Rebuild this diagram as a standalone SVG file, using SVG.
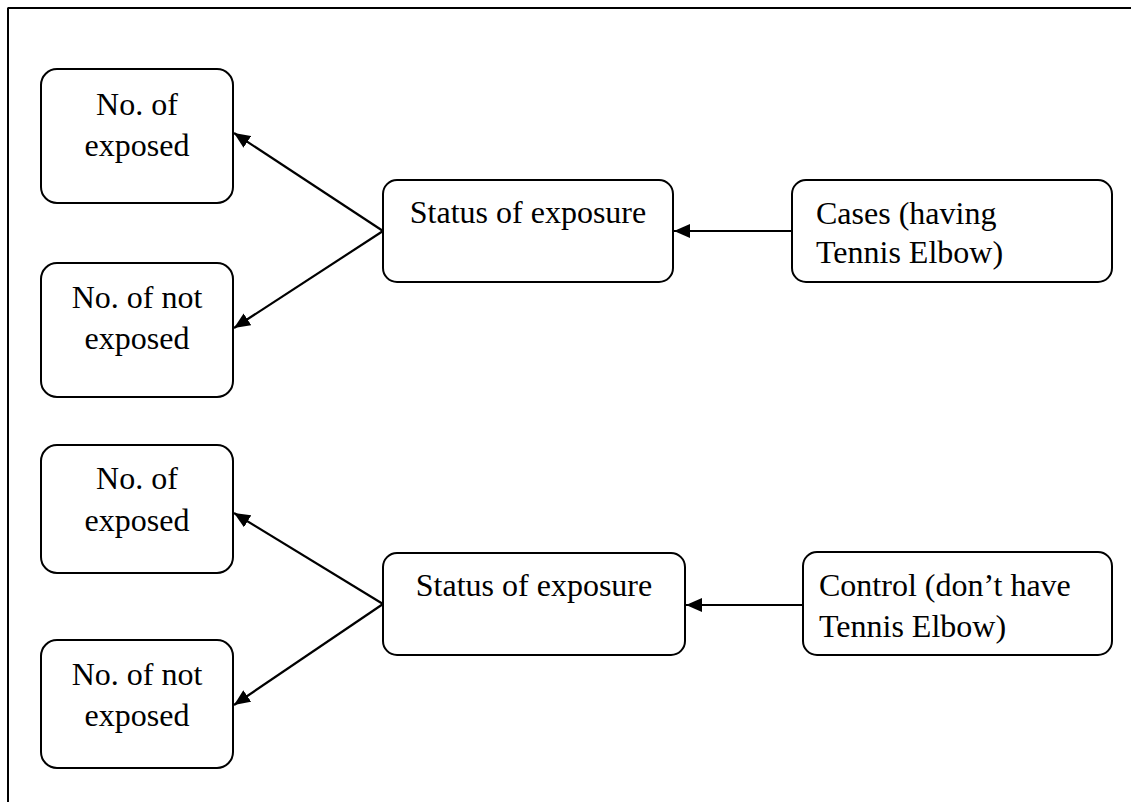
<svg xmlns="http://www.w3.org/2000/svg" width="1131" height="802" viewBox="0 0 1131 802">
<style>
.box{fill:#fff;stroke:#000;stroke-width:2}
.t{font-family:"Liberation Serif","Times New Roman",serif;font-size:32px;fill:#000}
.c{text-anchor:middle}
.conn{stroke:#000;stroke-width:2.2;fill:none;marker-end:url(#ah)}
</style>
<defs>
<marker id="ah" markerUnits="userSpaceOnUse" markerWidth="18" markerHeight="14" refX="16" refY="7" orient="auto">
<path d="M0,0 L16,7 L0,14 Z" fill="#000"/>
</marker>
</defs>
<rect width="1131" height="802" fill="#fff"/>
<g id="frame" stroke="#000" stroke-width="2" fill="none">
<line x1="7.5" y1="8" x2="1131" y2="8"/>
<line x1="8" y1="8" x2="8" y2="802"/>
</g>
<g id="connectors">
<line class="conn" x1="792" y1="231" x2="674" y2="231"/>
<line class="conn" x1="383" y1="231" x2="234" y2="133"/>
<line class="conn" x1="383" y1="231" x2="234" y2="328"/>
<line class="conn" x1="803" y1="605" x2="686" y2="605"/>
<line class="conn" x1="383" y1="604" x2="234" y2="513"/>
<line class="conn" x1="383" y1="604" x2="234" y2="705"/>
</g>
<g id="n1">
<rect class="box" x="41" y="69" width="192" height="134" rx="16"/>
<text class="t c" x="137" y="115">No. of</text>
<text class="t c" x="137" y="156">exposed</text>
</g>
<g id="n2">
<rect class="box" x="41" y="263" width="192" height="134" rx="16"/>
<text class="t c" x="137" y="308">No. of not</text>
<text class="t c" x="137" y="349">exposed</text>
</g>
<g id="n3">
<rect class="box" x="383" y="180" width="290" height="102" rx="14"/>
<text class="t c" x="528" y="223">Status of exposure</text>
</g>
<g id="n4">
<rect class="box" x="792" y="180" width="320" height="102" rx="14"/>
<text class="t" x="816" y="224">Cases (having</text>
<text class="t" x="816" y="263">Tennis Elbow)</text>
</g>
<g id="n5">
<rect class="box" x="41" y="445" width="192" height="128" rx="16"/>
<text class="t c" x="137" y="489">No. of</text>
<text class="t c" x="137" y="531">exposed</text>
</g>
<g id="n6">
<rect class="box" x="41" y="640" width="192" height="128" rx="16"/>
<text class="t c" x="137" y="685">No. of not</text>
<text class="t c" x="137" y="726">exposed</text>
</g>
<g id="n7">
<rect class="box" x="383" y="553" width="302" height="102" rx="14"/>
<text class="t c" x="534" y="596">Status of exposure</text>
</g>
<g id="n8">
<rect class="box" x="803" y="552" width="309" height="103" rx="14"/>
<text class="t" x="819" y="596">Control (don’t have</text>
<text class="t" x="819" y="637">Tennis Elbow)</text>
</g>
</svg>
